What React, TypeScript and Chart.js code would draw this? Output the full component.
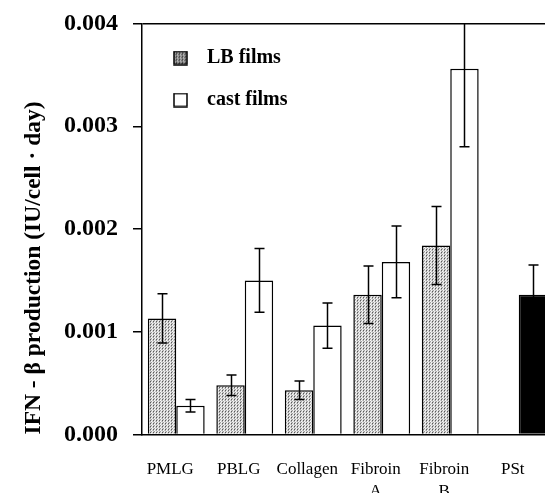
import React, { useEffect, useRef } from 'react';
import { Chart, registerables } from 'chart.js';

Chart.register(...registerables);

// ---- data ----
const categories: (string | string[])[] = ['PMLG', 'PBLG', 'Collagen', ['Fibroin', 'A'], ['Fibroin', 'B'], 'PSt'];
const seriesLabels = ['LB films', 'cast films'];
const lbFilms = [0.00113, 0.00048, 0.00043, 0.00136, 0.00184, null];
const lbErrors = [0.00024, 0.0001, 0.00009, 0.00028, 0.00038, null];
const castFilms = [0.00028, 0.0015, 0.00106, 0.00168, 0.00356, 0.00136];
const castErrors = [0.00006, 0.00031, 0.00022, 0.00035, 0.00076, 0.00029];
const castColors = ['#ffffff', '#ffffff', '#ffffff', '#ffffff', '#ffffff', '#000000'];
const yMin = 0;
const yMax = 0.004;
const yStep = 0.001;
const yTitle = 'IFN - β production (IU/cell · day)';

const SERIF = "'Liberation Serif', 'Times New Roman', serif";
const CANVAS_W = 560;
const CANVAS_H = 520;

function stippleTile(dark: boolean): HTMLCanvasElement {
  const c = document.createElement('canvas');
  c.width = 3;
  c.height = 3;
  const g = c.getContext('2d')!;
  const img = g.createImageData(3, 3);
  const vals = dark
    ? [50, 150, 110, 140, 210, 120, 100, 130, 190]
    : [90, 210, 230, 170, 250, 200, 205, 160, 245];
  for (let i = 0; i < 9; i++) {
    img.data[i * 4] = vals[i];
    img.data[i * 4 + 1] = vals[i];
    img.data[i * 4 + 2] = vals[i];
    img.data[i * 4 + 3] = 255;
  }
  g.putImageData(img, 0, 0);
  return c;
}

function legendBox(fill: CanvasPattern | string): HTMLCanvasElement {
  const c = document.createElement('canvas');
  c.width = 15;
  c.height = 15;
  const g = c.getContext('2d')!;
  g.fillStyle = fill as any;
  g.fillRect(1, 1, 13, 13);
  g.strokeStyle = '#000';
  g.lineWidth = 1.5;
  g.strokeRect(1, 1, 13, 13);
  return c;
}

const errorBarsPlugin = {
  id: 'errorBars',
  afterDatasetsDraw(chart: any) {
    const { ctx, chartArea, scales } = chart;
    const y = scales.y;
    const errs = [lbErrors, castErrors];
    ctx.save();
    ctx.beginPath();
    ctx.rect(chartArea.left, chartArea.top, chartArea.right - chartArea.left, chartArea.bottom - chartArea.top);
    ctx.clip();
    ctx.strokeStyle = '#000';
    ctx.lineWidth = 1.5;
    chart.data.datasets.forEach((ds: any, di: number) => {
      const meta = chart.getDatasetMeta(di);
      meta.data.forEach((bar: any, i: number) => {
        const v = ds.data[i];
        const e = errs[di][i];
        if (v == null || e == null) return;
        const x = Math.round(bar.x) + 0.5;
        const yHi = y.getPixelForValue(v + e);
        const yLo = y.getPixelForValue(v - e);
        ctx.beginPath();
        ctx.moveTo(x, yLo);
        ctx.lineTo(x, yHi);
        ctx.moveTo(x - 5, yHi);
        ctx.lineTo(x + 5, yHi);
        ctx.moveTo(x - 5, yLo);
        ctx.lineTo(x + 5, yLo);
        ctx.stroke();
      });
    });
    ctx.restore();
  },
};

export default function App() {
  const canvasRef = useRef<HTMLCanvasElement | null>(null);

  useEffect(() => {
    const canvas = canvasRef.current!;
    const ctx = canvas.getContext('2d')!;
    const barPattern = ctx.createPattern(stippleTile(false), 'repeat')!;
    const legendPattern = ctx.createPattern(stippleTile(true), 'repeat')!;
    const boxes = [legendBox(legendPattern), legendBox('#ffffff')];

    const chart = new Chart(canvas, {
      type: 'bar',
      data: {
        labels: categories as any,
        datasets: [
          {
            label: seriesLabels[0],
            data: lbFilms as any,
            backgroundColor: barPattern as any,
            borderColor: '#000',
            borderWidth: 1.5,
          },
          {
            label: seriesLabels[1],
            data: castFilms as any,
            backgroundColor: castColors,
            borderColor: '#000',
            borderWidth: 1.5,
          },
        ],
      },
      options: {
        animation: false,
        responsive: false,
        maintainAspectRatio: false,
        datasets: {
          bar: { categoryPercentage: 0.83, barPercentage: 1.0 },
        } as any,
        layout: { padding: { left: 0, top: 23.5, right: 7, bottom: 0 } },
        plugins: {
          tooltip: { enabled: false },
          legend: {
            display: true,
            position: 'chartArea' as any,
            align: 'start',
            title: {
              display: true,
              text: ' ',
              padding: { top: 1, bottom: 1 },
              font: { family: SERIF, size: 20 },
            },
            labels: {
              usePointStyle: true,
              pointStyleWidth: 33,
              padding: 22,
              color: '#000',
              font: { family: SERIF, size: 20, weight: 'bold' },
              generateLabels: () =>
                seriesLabels.map((text, i) => ({
                  text,
                  pointStyle: boxes[i] as any,
                  fillStyle: '#fff',
                  strokeStyle: '#000',
                  lineWidth: 0,
                  hidden: false,
                  datasetIndex: i,
                  fontColor: '#000',
                })),
            },
          },
        },
        scales: {
          x: {
            type: 'category',
            offset: true,
            grid: { display: false, drawTicks: false },
            border: { display: true, color: '#000', width: 1.5 },
            ticks: {
              color: '#000',
              font: { family: SERIF, size: 17, lineHeight: 1.3 },
              padding: 24,
              labelOffset: -6,
              maxRotation: 0,
              autoSkip: false,
            },
            afterFit: (scale: any) => {
              scale.height = CANVAS_H - 434.5;
            },
          },
          y: {
            min: yMin,
            max: yMax,
            grid: {
              display: true,
              drawOnChartArea: true,
              drawTicks: true,
              tickLength: 9,
              tickColor: '#000',
              tickWidth: 1.5,
              lineWidth: 1.5,
              color: (c: any) => (c.index === 4 ? '#000' : 'rgba(0,0,0,0)'),
            },
            border: { display: true, color: '#000', width: 1.5 },
            ticks: {
              stepSize: yStep,
              color: '#000',
              padding: 15,
              font: { family: SERIF, size: 24, weight: 'bold' },
              callback: (v: any) => Number(v).toFixed(3),
            },
            title: {
              display: true,
              text: yTitle,
              align: 'start',
              color: '#000',
              font: { family: SERIF, size: 23.5, weight: 'bold' },
              padding: { top: 20, bottom: 0 },
            },
            afterFit: (scale: any) => {
              scale.width = 142;
              scale.paddingTop = 10;
              scale.paddingBottom = 10;
            },
          },
        },
      },
      plugins: [errorBarsPlugin],
    });
    return () => chart.destroy();
  }, []);

  return (
    <div
      style={{
        position: 'absolute',
        left: 0,
        top: 0,
        width: 545,
        height: 493,
        overflow: 'hidden',
        background: '#fff',
      }}
    >
      <canvas ref={canvasRef} width={CANVAS_W} height={CANVAS_H} style={{ width: CANVAS_W, height: CANVAS_H, display: 'block' }} />
    </div>
  );
}
